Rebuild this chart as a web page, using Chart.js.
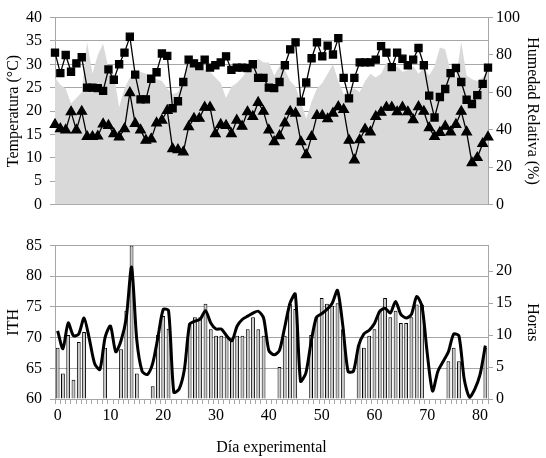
<!DOCTYPE html>
<html>
<head>
<meta charset="utf-8">
<script src="https://cdn.jsdelivr.net/npm/chart.js@4.4.0/dist/chart.umd.min.js"></script>
<style>
  html, body { margin: 0; padding: 0; background: #fff; overflow: hidden; }
  #wrap { position: relative; width: 546px; height: 458px; overflow: hidden; }
  .box { position: absolute; left: 0; width: 546px; }
  #top-box { top: 0; height: 222px; }
  #bottom-box { top: 228px; height: 233px; }
</style>
</head>
<body>
<div id="wrap">
  <div class="box" id="top-box"><canvas id="temp-chart"></canvas></div>
  <div class="box" id="bottom-box"><canvas id="ith-chart"></canvas></div>
</div>
<script>
// Days 0..81
const days = Array.from({ length: 82 }, (_, i) => i);

// Top panel: max / min temperature (°C) and relative humidity (%)
const tempMax = [
    32.5, 28.1, 32.0, 28.4, 30.2, 31.5, 25.0, 25.0, 24.9, 24.3, 28.9, 26.7, 30.0, 32.5,
    35.9, 27.8, 22.5, 22.5, 26.9, 28.3, 32.3, 31.8, 20.6, 22.1, 26.2, 31.0, 30.2, 29.6,
    31.0, 29.3, 29.8, 30.4, 31.7, 28.8, 29.3, 29.3, 29.2, 30.0, 27.1, 27.1, 25.0, 24.9,
    26.2, 29.8, 33.2, 34.7, 22.0, 26.1, 31.3, 34.7, 31.7, 34.0, 32.1, 35.6, 27.1, 22.7,
    27.1, 30.4, 30.4, 30.4, 31.0, 33.9, 32.5, 29.4, 32.5, 31.2, 29.8, 31.0, 33.5, 29.8,
    23.3, 18.6, 23.0, 24.7, 28.1, 29.2, 26.2, 22.4, 21.5, 23.4, 25.8, 29.3
];
const tempMin = [
    17.1, 16.2, 15.9, 19.8, 15.9, 19.9, 14.5, 14.5, 14.6, 17.2, 16.9, 15.1, 14.4, 16.2,
    23.9, 17.3, 15.9, 13.7, 14.0, 17.4, 18.0, 20.1, 11.9, 11.7, 11.2, 16.6, 18.4, 18.4,
    20.8, 20.8, 15.1, 17.1, 16.9, 15.1, 18.0, 16.7, 19.8, 18.8, 21.8, 19.9, 15.9, 13.4,
    14.7, 17.4, 19.9, 19.5, 13.4, 10.6, 14.5, 19.0, 19.0, 18.3, 19.5, 20.9, 20.3, 13.7,
    9.5, 13.8, 16.1, 15.5, 18.8, 19.7, 20.8, 20.8, 19.8, 20.8, 19.8, 18.1, 20.9, 19.9,
    16.4, 14.5, 15.4, 16.7, 15.5, 17.1, 19.9, 15.5, 8.9, 10.0, 13.0, 14.4
];
const humidity = [
    68, 64, 62, 54, 57, 60, 87, 70, 80, 86, 73, 70, 52, 62,
    68, 70, 71, 70, 69, 67, 66, 62, 59, 60, 68, 75, 74, 73,
    72, 71, 68, 65, 57, 63, 65, 68, 72, 74, 78, 76, 76, 69,
    74, 72, 66, 63, 55, 46, 55, 62, 65, 70, 75, 66, 59, 61,
    62, 60, 66, 70, 68, 70, 76, 73, 74, 71, 72, 74, 70, 73,
    69, 74, 84, 83, 71, 68, 87, 69, 67, 66, 68, 72
];

// Bottom panel: ITH and hours
const ith = [
    71.1, 68.2, 72.4, 70.3, 70.6, 73.2, 69.8, 65.8, 64.8, 70.1, 71.9, 67.7, 69.5, 73.2,
    81.5, 69.5, 64.5, 64.0, 65.8, 70.1, 74.6, 74.4, 61.1, 61.6, 64.8, 72.2, 72.7, 73.0,
    74.4, 72.4, 71.4, 71.4, 70.3, 69.5, 71.9, 73.0, 73.5, 74.0, 74.3, 73.2, 67.9, 67.2,
    67.9, 71.7, 75.6, 77.1, 62.9, 64.2, 69.3, 73.3, 73.9, 74.6, 75.6, 77.7, 72.0, 64.5,
    64.5, 68.7, 70.6, 71.2, 72.3, 74.3, 74.8, 74.0, 75.9, 73.8, 73.2, 73.8, 76.7, 75.1,
    67.4, 61.3, 64.5, 66.1, 67.7, 70.6, 70.3, 63.2, 60.3, 61.6, 64.0, 68.7
];
const hours = [
    8.0, 4.0, 10.0, 3.0, 8.9, 10.5, null, null, null, 8.0, null, null, 7.8, 13.8,
    24.0, 4.0, null, null, 2.0, 10.0, 13.0, 11.0, null, null, null, 11.8, 12.8, 12.8,
    14.9, 10.9, 9.9, 9.9, 9.8, 9.5, 9.9, 9.9, 10.9, 12.8, 10.9, 9.9, null, null,
    5.0, 9.9, 14.9, 14.1, null, null, 10.0, 12.8, 15.8, 14.9, 14.6, 15.0, 10.9, null,
    null, 8.5, 8.0, 9.9, 10.9, 13.8, 15.8, 12.8, 13.8, 11.9, 11.9, 12.8, 14.8, 14.8,
    null, null, null, null, 5.9, 8.0, 5.9, null, null, null, null, 8.0
];

const gridGray = '#a6a6a6';
Chart.defaults.font.family = '"Liberation Serif", "Times New Roman", serif';
Chart.defaults.font.size = 16;
Chart.defaults.color = '#000';

// Temperature / humidity chart
const tempCtx = document.getElementById('temp-chart').getContext('2d');
const tempChart = new Chart(tempCtx, {
    type: 'line',
    data: {
        labels: days,
        datasets: [{
            label: 'Temp. máxima',
            data: tempMax,
            yAxisID: 'y',
            borderColor: '#000',
            borderWidth: 1.3,
            pointStyle: 'rect',
            pointRadius: 5,
            pointBackgroundColor: '#000',
            pointBorderColor: '#000',
            tension: 0,
            order: 0
        }, {
            label: 'Temp. mínima',
            data: tempMin,
            yAxisID: 'y',
            borderColor: '#000',
            borderWidth: 1.3,
            pointStyle: 'triangle',
            pointRadius: 5.5,
            pointBackgroundColor: '#000',
            pointBorderColor: '#000',
            tension: 0,
            order: 1
        }, {
            label: 'Humedad relativa',
            data: humidity,
            yAxisID: 'y1',
            fill: 'origin',
            backgroundColor: '#d9d9d9',
            borderWidth: 0,
            pointRadius: 0,
            tension: 0,
            order: 2
        }]
    },
    options: {
        responsive: true,
        maintainAspectRatio: false,
        animation: false,
        layout: { padding: { top: 10, left: 0, right: 0, bottom: 0 } },
        plugins: {
            legend: { display: false },
            tooltip: { enabled: false }
        },
        scales: {
            x: {
                offset: false,
                ticks: { display: false },
                grid: { display: false, drawTicks: false },
                border: { color: gridGray },
                afterFit: function(scale) { scale.height = 15; }
            },
            y: {
                position: 'left',
                min: 0,
                max: 40,
                ticks: { stepSize: 5, padding: 8 },
                grid: { color: gridGray, tickLength: 5 },
                border: { color: gridGray },
                title: { display: true, text: 'Temperatura (°C)' },
                afterFit: function(scale) { scale.width = 55; }
            },
            y1: {
                position: 'right',
                min: 0,
                max: 100,
                ticks: { stepSize: 20, padding: 3 },
                grid: { drawOnChartArea: false, color: gridGray, tickLength: 5 },
                border: { color: gridGray },
                title: { display: true, text: 'Humedad Relativa (%)' },
                afterFit: function(scale) { scale.width = 58; }
            }
        }
    }
});

// ITH / hours chart
const ithCtx = document.getElementById('ith-chart').getContext('2d');
const ithChart = new Chart(ithCtx, {
    type: 'bar',
    data: {
        labels: days,
        datasets: [{
            type: 'line',
            label: 'ITH',
            data: ith,
            yAxisID: 'y',
            borderColor: '#000',
            borderWidth: 3,
            pointRadius: 0,
            tension: 0.25,
            order: 0
        }, {
            type: 'bar',
            label: 'Horas',
            data: hours,
            yAxisID: 'y1',
            backgroundColor: '#c8c8c8',
            borderColor: '#000',
            borderWidth: 1,
            barPercentage: 0.72,
            categoryPercentage: 1,
            order: 1
        }]
    },
    options: {
        responsive: true,
        maintainAspectRatio: false,
        animation: false,
        layout: { padding: { top: 13, left: 0, right: 0, bottom: 0 } },
        plugins: {
            legend: { display: false },
            tooltip: { enabled: false }
        },
        scales: {
            x: {
                offset: true,
                ticks: {
                    autoSkip: false,
                    maxRotation: 0,
                    padding: 2,
                    callback: function(value, index) {
                        return index % 10 === 0 ? days[index] : '';
                    }
                },
                grid: { drawOnChartArea: false, color: gridGray, tickLength: 5 },
                border: { color: gridGray },
                title: { display: true, text: 'Día experimental' },
                afterFit: function(scale) { scale.height = 62; }
            },
            y: {
                position: 'left',
                min: 60,
                max: 85,
                ticks: { stepSize: 5, padding: 8 },
                grid: { color: gridGray, tickLength: 5 },
                border: { color: gridGray },
                title: { display: true, text: 'ITH' },
                afterFit: function(scale) { scale.width = 55; }
            },
            y1: {
                position: 'right',
                min: 0,
                max: 24,
                ticks: { stepSize: 5, padding: 3 },
                afterBuildTicks: function(scale) {
                    scale.ticks = scale.ticks.filter(t => t.value % 5 === 0);
                },
                grid: { drawOnChartArea: false, color: gridGray, tickLength: 5 },
                border: { color: gridGray },
                title: { display: true, text: 'Horas' },
                afterFit: function(scale) { scale.width = 58; }
            }
        }
    }
});
</script>
</body>
</html>
